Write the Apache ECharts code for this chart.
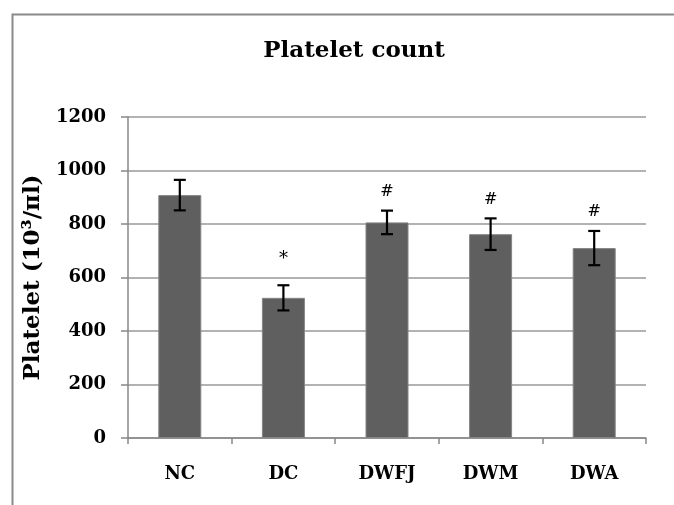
<!DOCTYPE html>
<html>
<head>
<meta charset="utf-8">
<script src="https://cdn.jsdelivr.net/npm/echarts@6/dist/echarts.min.js"></script>
<style>html,body{margin:0;padding:0;background:#fff}#c{width:674px;height:505px}</style>
</head>
<body>
<div id="c"></div>
<script>
var categories = ['NC', 'DC', 'DWFJ', 'DWM', 'DWA'];
var means = [908, 524, 806, 762, 710];
var errors = [57, 47, 44, 59, 64];
var marks = ['', '*', '#', '#', '#'];
var yTicks = [0, 200, 400, 600, 800, 1000, 1200];

var FONT = 'DejaVu Serif';
var chart = echarts.init(document.getElementById('c'), null, {renderer: 'canvas'});

var errData = categories.map(function (c, i) { return [i, means[i], errors[i], marks[i]]; });

chart.setOption({
  animation: false,
  backgroundColor: '#fff',
  graphic: [{
    type: 'rect', left: 10, top: 12, z: -1,
    shape: {width: 700, height: 600},
    style: {fill: 'none', stroke: '#8a8a8a', lineWidth: 2}
  }],
  title: {
    text: 'Platelet count',
    left: 349, top: 35, textAlign: 'center',
    textStyle: {fontFamily: FONT, fontWeight: 'bold', fontSize: 23, color: '#000'}
  },
  grid: {left: 128, right: 28, top: 117, bottom: 67},
  xAxis: {
    type: 'category',
    data: categories,
    axisLine: {lineStyle: {color: '#888', width: 1.5}},
    axisTick: {show: true, length: 6, lineStyle: {color: '#888', width: 1.5}},
    axisLabel: {margin: 27, fontFamily: FONT, fontWeight: 'bold', fontSize: 18, color: '#000'}
  },
  yAxis: {
    type: 'value',
    min: yTicks[0], max: yTicks[yTicks.length - 1], interval: 200,
    name: 'Platelet (10\u00B3/\u03C0l)',
    nameLocation: 'middle', nameGap: 80, nameRotate: 90,
    nameTextStyle: {fontFamily: FONT, fontWeight: 'bold', fontSize: 23, color: '#000'},
    axisLine: {show: true, lineStyle: {color: '#888', width: 1.5}},
    axisTick: {show: true, length: 7, lineStyle: {color: '#888', width: 1.5}},
    splitLine: {lineStyle: {color: '#999', width: 1.5}},
    axisLabel: {
      margin: 22, fontFamily: FONT, fontWeight: 'bold', fontSize: 18, color: '#000',
      formatter: function (v) { return String(v); }
    }
  },
  series: [{
    type: 'bar',
    data: means,
    barWidth: 43,
    itemStyle: {color: '#5f5f5f', borderColor: '#858585', borderWidth: 1}
  }, {
    type: 'custom',
    data: errData,
    z: 10,
    renderItem: function (params, api) {
      var x = api.value(0), m = api.value(1), e = api.value(2);
      var top = api.coord([x, m + e]);
      var bot = api.coord([x, m - e]);
      var hw = 6;
      var st = {stroke: '#000', lineWidth: 2.2};
      var children = [
        {type: 'line', shape: {x1: top[0], y1: top[1], x2: bot[0], y2: bot[1]}, style: st},
        {type: 'line', shape: {x1: top[0] - hw, y1: top[1], x2: top[0] + hw, y2: top[1]}, style: st},
        {type: 'line', shape: {x1: bot[0] - hw, y1: bot[1], x2: bot[0] + hw, y2: bot[1]}, style: st}
      ];
      var mk = marks[params.dataIndex];
      if (mk) {
        children.push({
          type: 'text',
          style: {
            text: mk, x: top[0], y: top[1] - (mk === '*' ? 17 : 11),
            align: 'center', verticalAlign: 'bottom',
            font: (mk === '*' ? '18px ' : '16px ') + FONT, fill: '#000'
          }
        });
      }
      return {type: 'group', children: children};
    }
  }]
});
</script>
</body>
</html>
